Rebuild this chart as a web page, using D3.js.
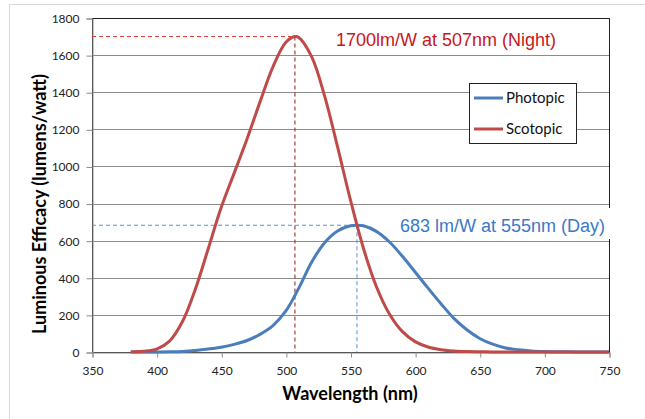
<!DOCTYPE html>
<html>
<head>
<meta charset="utf-8">
<script src="https://cdn.jsdelivr.net/npm/d3@7"></script>
<style>
  body { margin: 0; background: #fff; }
</style>
</head>
<body>
<script>
const width = 645;
const height = 419;

// photopic (day) curve, lm/W
const photopicNm = [380, 390, 400, 410, 420, 430, 440, 450, 460, 470, 480, 490, 500, 510, 520, 530, 540, 550, 555, 560, 570, 580, 590, 600, 610, 620, 630, 640, 650, 660, 670, 680, 690, 700, 710, 720, 730, 740, 750];
const photopic = [0.03, 0.08, 0.3, 0.8, 2.7, 8, 16, 26, 41, 62, 95, 142, 221, 344, 485, 589, 652, 680, 683, 680, 650, 594, 517, 431, 344, 260, 181, 120, 73, 42, 22, 12, 6, 3, 1.4, 0.7, 0.4, 0.2, 0.1];

// scotopic (night) curve, lm/W
const scotopicNm = [380, 390, 400, 410, 420, 430, 440, 450, 460, 470, 480, 490, 500, 507, 510, 520, 530, 540, 550, 560, 570, 580, 590, 600, 610, 620, 630, 640, 650, 660, 670, 680, 690, 700, 720, 750];
const scotopic = [1, 4, 16, 59, 164, 340, 558, 780, 964, 1149, 1348, 1537, 1669, 1700, 1695, 1590, 1379, 1105, 818, 559, 353, 206, 111, 56, 27, 12.5, 5.7, 2.5, 1.2, 0.5, 0.25, 0.1, 0.05, 0, 0, 0];

const xTicks = [350, 400, 450, 500, 550, 600, 650, 700, 750];
const yTicks = [0, 200, 400, 600, 800, 1000, 1200, 1400, 1600, 1800];
const seriesNames = ['Photopic', 'Scotopic'];
const seriesColors = ['#4a7ebb', '#be4b48'];

const nightPeak = { nm: 507, value: 1700, label: '1700lm/W at 507nm (Night)' };
const dayPeak = { nm: 555, value: 683, label: '683 lm/W at 555nm (Day)' };

let svg = d3.select('body')
    .append('svg')
    .attr('width', width)
    .attr('height', height);

// outer chart frame
svg.append('rect')
    .attr('x', 9.5)
    .attr('y', 4.5)
    .attr('width', 700)
    .attr('height', 500)
    .attr('fill', '#fff')
    .attr('stroke', '#d9d9d9');

let plot = { left: 92, top: 18, right: 609, bottom: 352 };

let xScale = d3.scaleLinear()
    .domain([350, 750])
    .range([plot.left, plot.right]);
let yScale = d3.scaleLinear()
    .domain([0, 1800])
    .range([plot.bottom, plot.top]);

// gridlines
svg.append('g')
    .selectAll('line')
    .data(yTicks.slice(1))
    .enter()
    .append('line')
    .attr('x1', plot.left)
    .attr('x2', plot.right)
    .attr('y1', d => Math.round(yScale(d)) + 0.5)
    .attr('y2', d => Math.round(yScale(d)) + 0.5)
    .attr('stroke', '#8c8c8c');

// plot border (top + right show dark)
svg.append('rect')
    .attr('x', plot.left + 0.5)
    .attr('y', plot.top + 0.5)
    .attr('width', plot.right - plot.left)
    .attr('height', plot.bottom - plot.top)
    .attr('fill', 'none')
    .attr('stroke', '#222');

let xAxis = d3.axisBottom(xScale)
    .tickValues(xTicks)
    .tickSize(5)
    .tickPadding(9)
    .tickFormat(d3.format('d'));
let yAxis = d3.axisLeft(yScale)
    .tickValues(yTicks)
    .tickSize(6)
    .tickPadding(7)
    .tickFormat(d3.format('d'));

let xAxisGroup = svg.append('g')
    .attr('transform', `translate(0.5, ${Math.round(plot.bottom) + 0.5})`)
    .call(xAxis);
let yAxisGroup = svg.append('g')
    .attr('transform', `translate(${plot.left + 0.5}, 0.5)`)
    .call(yAxis);

[xAxisGroup, yAxisGroup].forEach(g => {
    g.select('.domain').attr('stroke', '#8c8c8c');
    g.selectAll('.tick line').attr('stroke', '#8c8c8c');
    g.selectAll('.tick text')
        .attr('fill', '#222')
        .style('font-family', 'Lato, "Open Sans", sans-serif')
        .style('font-size', '12px');
});

// axis titles
svg.append('text')
    .attr('x', 350)
    .attr('y', 400)
    .attr('text-anchor', 'middle')
    .style('font-family', 'Lato, "Open Sans", sans-serif')
    .style('font-weight', 'bold')
    .style('font-size', '18px')
    .text('Wavelength (nm)');

svg.append('text')
    .attr('transform', 'translate(46, 204) rotate(-90)')
    .attr('text-anchor', 'middle')
    .style('font-family', 'Lato, "Open Sans", sans-serif')
    .style('font-weight', 'bold')
    .style('font-size', '18px')
    .text('Luminous Efficacy (lumens/watt)');

// dashed guides
let guides = svg.append('g');
guides.append('line')
    .attr('x1', plot.left).attr('x2', xScale(nightPeak.nm))
    .attr('y1', yScale(nightPeak.value)).attr('y2', yScale(nightPeak.value))
    .attr('stroke', '#e03a3a').attr('stroke-dasharray', '4,3');
guides.append('line')
    .attr('x1', xScale(nightPeak.nm)).attr('x2', xScale(nightPeak.nm))
    .attr('y1', yScale(nightPeak.value)).attr('y2', plot.bottom)
    .attr('stroke', '#8b1a1a').attr('stroke-dasharray', '4,3');
guides.append('line')
    .attr('x1', plot.left).attr('x2', xScale(dayPeak.nm))
    .attr('y1', yScale(dayPeak.value)).attr('y2', yScale(dayPeak.value))
    .attr('stroke', '#5b8fd0').attr('stroke-dasharray', '4,3');
guides.append('line')
    .attr('x1', xScale(dayPeak.nm)).attr('x2', xScale(dayPeak.nm))
    .attr('y1', yScale(dayPeak.value)).attr('y2', plot.bottom)
    .attr('stroke', '#5b8fd0').attr('stroke-dasharray', '4,3');

// day label box (sits over grid and border)
svg.append('rect')
    .attr('x', 396)
    .attr('y', 208)
    .attr('width', 220)
    .attr('height', 31)
    .attr('fill', '#fff');

// curves
let line = d3.line()
    .x(d => xScale(d[0]))
    .y(d => yScale(d[1]))
    .curve(d3.curveCatmullRom);

let series = [
    photopicNm.map((nm, i) => [nm, photopic[i]]),
    scotopicNm.map((nm, i) => [nm, scotopic[i]])
];

svg.append('g')
    .selectAll('path')
    .data(series)
    .enter()
    .append('path')
    .attr('d', line)
    .attr('fill', 'none')
    .attr('stroke', (d, i) => seriesColors[i])
    .attr('stroke-width', 3)
    .attr('stroke-linejoin', 'round');

// annotations
svg.append('text')
    .attr('x', 336)
    .attr('y', 46)
    .attr('fill', '#c8161d')
    .style('font-family', '"Liberation Sans", Arial, sans-serif')
    .style('font-size', '18px')
    .text(nightPeak.label);

svg.append('text')
    .attr('x', 400)
    .attr('y', 232)
    .attr('fill', '#3a78c8')
    .style('font-family', '"Liberation Sans", Arial, sans-serif')
    .style('font-size', '18px')
    .text(dayPeak.label);

// legend
let legend = svg.append('g');
legend.append('rect')
    .attr('x', 469.5)
    .attr('y', 83.5)
    .attr('width', 107)
    .attr('height', 60)
    .attr('fill', '#fff')
    .attr('stroke', '#222');

let legendItems = legend.selectAll('.item')
    .data(seriesNames)
    .enter()
    .append('g')
    .classed('item', true)
    .attr('transform', (d, i) => `translate(474, ${98 + i * 31})`);

legendItems.append('line')
    .attr('x1', 0)
    .attr('x2', 29)
    .attr('stroke', (d, i) => seriesColors[i])
    .attr('stroke-width', 3);

legendItems.append('text')
    .attr('x', 32)
    .attr('y', 5)
    .attr('fill', '#111')
    .style('font-family', 'Lato, "Open Sans", sans-serif')
    .style('font-size', '15px')
    .text(d => d);
</script>
</body>
</html>
